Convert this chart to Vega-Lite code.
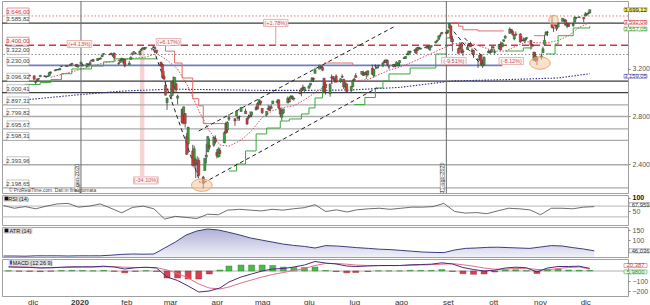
{
"$schema":"https://vega.github.io/schema/vega-lite/v6.json",
"padding":0,
"background":"white",
"spacing":2,
"bounds":"flush",
"config":{"font":"Liberation Sans","view":{"stroke":"#a0a0a0","strokeWidth":1}},
"datasets":{
"px":[
{"d":"2019-11-15","o":3107,"h":3120,"l":3104,"c":3120},{"d":"2019-11-18","o":3118,"h":3124,"l":3112,"c":3122},{"d":"2019-11-19","o":3127,"h":3128,"l":3114,"c":3120},{"d":"2019-11-20","o":3115,"h":3119,"l":3091,"c":3108},{"d":"2019-11-21","o":3108,"h":3111,"l":3095,"c":3104},{"d":"2019-11-22","o":3112,"h":3112,"l":3099,"c":3110},{"d":"2019-11-25","o":3118,"h":3133,"l":3117,"c":3134},{"d":"2019-11-26","o":3135,"h":3142,"l":3131,"c":3141},{"d":"2019-11-27","o":3145,"h":3154,"l":3143,"c":3154},{"d":"2019-11-29","o":3147,"h":3151,"l":3139,"c":3141},
{"d":"2019-12-02","o":3143,"h":3144,"l":3110,"c":3113},{"d":"2019-12-03","o":3087,"h":3094,"l":3070,"c":3093},{"d":"2019-12-04","o":3103,"h":3120,"l":3102,"c":3113},{"d":"2019-12-05","o":3119,"h":3120,"l":3103,"c":3117},{"d":"2019-12-06","o":3134,"h":3150,"l":3134,"c":3146},{"d":"2019-12-09","o":3141,"h":3149,"l":3135,"c":3136},{"d":"2019-12-10","o":3135,"h":3143,"l":3127,"c":3132},{"d":"2019-12-11","o":3136,"h":3143,"l":3133,"c":3141},{"d":"2019-12-12","o":3142,"h":3177,"l":3138,"c":3169},{"d":"2019-12-13","o":3167,"h":3182,"l":3157,"c":3169},{"d":"2019-12-16","o":3184,"h":3198,"l":3184,"c":3191},{"d":"2019-12-17","o":3195,"h":3198,"l":3191,"c":3192},{"d":"2019-12-18","o":3196,"h":3199,"l":3189,"c":3191},{"d":"2019-12-19","o":3192,"h":3206,"l":3192,"c":3205},{"d":"2019-12-20","o":3223,"h":3226,"l":3216,"c":3221},{"d":"2019-12-23","o":3226,"h":3227,"l":3222,"c":3224},{"d":"2019-12-24","o":3225,"h":3226,"l":3220,"c":3223},{"d":"2019-12-26","o":3227,"h":3240,"l":3227,"c":3240},{"d":"2019-12-27","o":3248,"h":3248,"l":3235,"c":3240},{"d":"2019-12-30","o":3240,"h":3241,"l":3216,"c":3221},{"d":"2019-12-31","o":3216,"h":3232,"l":3212,"c":3231},
{"d":"2020-01-02","o":3245,"h":3258,"l":3236,"c":3258},{"d":"2020-01-03","o":3226,"h":3246,"l":3222,"c":3235},{"d":"2020-01-06","o":3218,"h":3247,"l":3215,"c":3246},{"d":"2020-01-07","o":3241,"h":3244,"l":3233,"c":3237},{"d":"2020-01-08","o":3238,"h":3268,"l":3236,"c":3253},{"d":"2020-01-09","o":3267,"h":3276,"l":3263,"c":3275},{"d":"2020-01-10","o":3281,"h":3282,"l":3260,"c":3265},{"d":"2020-01-13","o":3271,"h":3288,"l":3268,"c":3288},{"d":"2020-01-14","o":3285,"h":3295,"l":3277,"c":3283},{"d":"2020-01-15","o":3283,"h":3299,"l":3281,"c":3289},{"d":"2020-01-16","o":3302,"h":3317,"l":3302,"c":3317},{"d":"2020-01-17","o":3324,"h":3330,"l":3317,"c":3330},{"d":"2020-01-21","o":3321,"h":3329,"l":3316,"c":3321},{"d":"2020-01-22","o":3331,"h":3338,"l":3320,"c":3321},{"d":"2020-01-23","o":3316,"h":3326,"l":3302,"c":3326},{"d":"2020-01-24","o":3334,"h":3338,"l":3280,"c":3295},{"d":"2020-01-27","o":3248,"h":3259,"l":3234,"c":3244},{"d":"2020-01-28","o":3255,"h":3286,"l":3254,"c":3276},{"d":"2020-01-29","o":3289,"h":3294,"l":3271,"c":3273},{"d":"2020-01-30","o":3256,"h":3286,"l":3242,"c":3284},{"d":"2020-01-31","o":3283,"h":3283,"l":3214,"c":3226},
{"d":"2020-02-03","o":3236,"h":3268,"l":3236,"c":3249},{"d":"2020-02-04","o":3280,"h":3306,"l":3280,"c":3298},{"d":"2020-02-05","o":3324,"h":3337,"l":3313,"c":3335},{"d":"2020-02-06","o":3344,"h":3348,"l":3334,"c":3345},{"d":"2020-02-07","o":3335,"h":3341,"l":3323,"c":3328},{"d":"2020-02-10","o":3319,"h":3352,"l":3317,"c":3352},{"d":"2020-02-11","o":3365,"h":3376,"l":3352,"c":3358},{"d":"2020-02-12","o":3370,"h":3381,"l":3369,"c":3379},{"d":"2020-02-13","o":3365,"h":3385,"l":3360,"c":3374},{"d":"2020-02-14","o":3378,"h":3380,"l":3367,"c":3380},{"d":"2020-02-18","o":3369,"h":3375,"l":3356,"c":3370},{"d":"2020-02-19","o":3380,"h":3393,"l":3378,"c":3386},{"d":"2020-02-20","o":3380,"h":3390,"l":3341,"c":3373},{"d":"2020-02-21","o":3360,"h":3360,"l":3328,"c":3338},{"d":"2020-02-24","o":3257,"h":3260,"l":3214,"c":3226},{"d":"2020-02-25","o":3238,"h":3247,"l":3118,"c":3128},{"d":"2020-02-26","o":3140,"h":3182,"l":3108,"c":3116},{"d":"2020-02-27","o":3062,"h":3098,"l":2978,"c":2979},{"d":"2020-02-28","o":2916,"h":2959,"l":2855,"c":2954},
{"d":"2020-03-02","o":2974,"h":3090,"l":2946,"c":3090},{"d":"2020-03-03","o":3096,"h":3137,"l":2976,"c":3003},{"d":"2020-03-04","o":3045,"h":3130,"l":3034,"c":3130},{"d":"2020-03-05","o":3075,"h":3084,"l":2999,"c":3024},{"d":"2020-03-06","o":2954,"h":2985,"l":2901,"c":2972},{"d":"2020-03-09","o":2863,"h":2863,"l":2734,"c":2747},{"d":"2020-03-10","o":2813,"h":2882,"l":2734,"c":2882},{"d":"2020-03-11","o":2825,"h":2825,"l":2707,"c":2741},{"d":"2020-03-12","o":2630,"h":2660,"l":2478,"c":2481},{"d":"2020-03-13","o":2569,"h":2711,"l":2492,"c":2711},{"d":"2020-03-16","o":2509,"h":2562,"l":2380,"c":2386},{"d":"2020-03-17","o":2425,"h":2553,"l":2367,"c":2529},{"d":"2020-03-18","o":2436,"h":2453,"l":2281,"c":2398},{"d":"2020-03-19","o":2394,"h":2466,"l":2319,"c":2409},{"d":"2020-03-20","o":2431,"h":2453,"l":2295,"c":2305},{"d":"2020-03-23","o":2290,"h":2300,"l":2192,"c":2237},{"d":"2020-03-24","o":2345,"h":2449,"l":2345,"c":2447},{"d":"2020-03-25","o":2458,"h":2571,"l":2407,"c":2476},{"d":"2020-03-26","o":2501,"h":2637,"l":2501,"c":2630},{"d":"2020-03-27","o":2556,"h":2615,"l":2520,"c":2541},{"d":"2020-03-30","o":2558,"h":2631,"l":2545,"c":2627},{"d":"2020-03-31","o":2614,"h":2641,"l":2571,"c":2585},
{"d":"2020-04-01","o":2498,"h":2522,"l":2447,"c":2471},{"d":"2020-04-02","o":2459,"h":2540,"l":2455,"c":2527},{"d":"2020-04-03","o":2514,"h":2538,"l":2459,"c":2489},{"d":"2020-04-06","o":2578,"h":2676,"l":2575,"c":2664},{"d":"2020-04-07","o":2738,"h":2756,"l":2658,"c":2660},{"d":"2020-04-08","o":2686,"h":2760,"l":2664,"c":2750},{"d":"2020-04-09","o":2777,"h":2819,"l":2762,"c":2790},{"d":"2020-04-13","o":2782,"h":2782,"l":2721,"c":2762},{"d":"2020-04-14","o":2805,"h":2851,"l":2805,"c":2846},{"d":"2020-04-15","o":2796,"h":2801,"l":2761,"c":2784},{"d":"2020-04-16","o":2799,"h":2807,"l":2765,"c":2800},{"d":"2020-04-17","o":2842,"h":2880,"l":2842,"c":2875},{"d":"2020-04-20","o":2846,"h":2867,"l":2821,"c":2823},{"d":"2020-04-21","o":2785,"h":2785,"l":2727,"c":2737},{"d":"2020-04-22","o":2787,"h":2816,"l":2775,"c":2799},{"d":"2020-04-23","o":2810,"h":2844,"l":2794,"c":2798},{"d":"2020-04-24","o":2813,"h":2842,"l":2794,"c":2837},{"d":"2020-04-27","o":2855,"h":2888,"l":2852,"c":2878},{"d":"2020-04-28","o":2909,"h":2921,"l":2861,"c":2863},{"d":"2020-04-29","o":2901,"h":2945,"l":2901,"c":2940},{"d":"2020-04-30","o":2930,"h":2930,"l":2892,"c":2912},
{"d":"2020-05-01","o":2869,"h":2869,"l":2822,"c":2831},{"d":"2020-05-04","o":2815,"h":2844,"l":2798,"c":2843},{"d":"2020-05-05","o":2858,"h":2898,"l":2854,"c":2868},{"d":"2020-05-06","o":2883,"h":2891,"l":2847,"c":2848},{"d":"2020-05-07","o":2869,"h":2901,"l":2866,"c":2881},{"d":"2020-05-08","o":2909,"h":2932,"l":2905,"c":2930},{"d":"2020-05-11","o":2915,"h":2945,"l":2910,"c":2930},{"d":"2020-05-12","o":2940,"h":2945,"l":2869,"c":2870},{"d":"2020-05-13","o":2865,"h":2874,"l":2794,"c":2820},{"d":"2020-05-14","o":2794,"h":2852,"l":2766,"c":2852},{"d":"2020-05-15","o":2829,"h":2865,"l":2821,"c":2864},{"d":"2020-05-18","o":2913,"h":2968,"l":2913,"c":2954},{"d":"2020-05-19","o":2948,"h":2965,"l":2921,"c":2922},{"d":"2020-05-20","o":2953,"h":2980,"l":2953,"c":2972},{"d":"2020-05-21","o":2970,"h":2978,"l":2939,"c":2949},{"d":"2020-05-22","o":2948,"h":2957,"l":2933,"c":2955},{"d":"2020-05-26","o":3005,"h":3021,"l":2988,"c":2992},{"d":"2020-05-27","o":3015,"h":3036,"l":2970,"c":3036},{"d":"2020-05-28","o":3047,"h":3068,"l":3024,"c":3030},{"d":"2020-05-29","o":3026,"h":3050,"l":3007,"c":3044},
{"d":"2020-06-01","o":3038,"h":3063,"l":3032,"c":3056},{"d":"2020-06-02","o":3064,"h":3081,"l":3052,"c":3081},{"d":"2020-06-03","o":3098,"h":3131,"l":3091,"c":3123},{"d":"2020-06-04","o":3121,"h":3128,"l":3090,"c":3112},{"d":"2020-06-05","o":3163,"h":3211,"l":3163,"c":3194},{"d":"2020-06-08","o":3199,"h":3233,"l":3197,"c":3232},{"d":"2020-06-09","o":3223,"h":3223,"l":3204,"c":3208},{"d":"2020-06-10","o":3213,"h":3223,"l":3181,"c":3190},{"d":"2020-06-11","o":3123,"h":3123,"l":2999,"c":3002},{"d":"2020-06-12","o":3072,"h":3089,"l":2984,"c":3041},{"d":"2020-06-15","o":2994,"h":3080,"l":2966,"c":3067},{"d":"2020-06-16","o":3131,"h":3154,"l":3076,"c":3125},{"d":"2020-06-17","o":3136,"h":3141,"l":3109,"c":3114},{"d":"2020-06-18","o":3101,"h":3120,"l":3094,"c":3116},{"d":"2020-06-19","o":3140,"h":3156,"l":3083,"c":3098},{"d":"2020-06-22","o":3095,"h":3121,"l":3082,"c":3118},{"d":"2020-06-23","o":3138,"h":3155,"l":3124,"c":3131},{"d":"2020-06-24","o":3114,"h":3116,"l":3032,"c":3050},{"d":"2020-06-25","o":3047,"h":3086,"l":3025,"c":3084},{"d":"2020-06-26","o":3074,"h":3074,"l":3005,"c":3009},{"d":"2020-06-29","o":3018,"h":3053,"l":2999,"c":3053},{"d":"2020-06-30","o":3050,"h":3112,"l":3048,"c":3100},
{"d":"2020-07-01","o":3105,"h":3128,"l":3101,"c":3116},{"d":"2020-07-02","o":3144,"h":3165,"l":3124,"c":3130},{"d":"2020-07-06","o":3155,"h":3182,"l":3155,"c":3180},{"d":"2020-07-07","o":3166,"h":3184,"l":3142,"c":3145},{"d":"2020-07-08","o":3154,"h":3172,"l":3145,"c":3169},{"d":"2020-07-09","o":3177,"h":3180,"l":3116,"c":3152},{"d":"2020-07-10","o":3152,"h":3186,"l":3136,"c":3185},{"d":"2020-07-13","o":3206,"h":3236,"l":3151,"c":3155},{"d":"2020-07-14","o":3141,"h":3200,"l":3128,"c":3197},{"d":"2020-07-15","o":3226,"h":3238,"l":3200,"c":3227},{"d":"2020-07-16","o":3209,"h":3220,"l":3198,"c":3216},{"d":"2020-07-17","o":3232,"h":3233,"l":3205,"c":3225},{"d":"2020-07-20","o":3225,"h":3259,"l":3216,"c":3251},{"d":"2020-07-21","o":3268,"h":3278,"l":3248,"c":3257},{"d":"2020-07-22","o":3254,"h":3280,"l":3250,"c":3276},{"d":"2020-07-23","o":3272,"h":3279,"l":3223,"c":3236},{"d":"2020-07-24","o":3218,"h":3228,"l":3198,"c":3216},{"d":"2020-07-27","o":3219,"h":3242,"l":3215,"c":3239},{"d":"2020-07-28","o":3235,"h":3244,"l":3216,"c":3218},{"d":"2020-07-29","o":3228,"h":3264,"l":3227,"c":3258},{"d":"2020-07-30","o":3231,"h":3251,"l":3219,"c":3246},{"d":"2020-07-31","o":3251,"h":3272,"l":3221,"c":3271},
{"d":"2020-08-03","o":3288,"h":3302,"l":3285,"c":3295},{"d":"2020-08-04","o":3289,"h":3307,"l":3287,"c":3306},{"d":"2020-08-05","o":3318,"h":3331,"l":3317,"c":3327},{"d":"2020-08-06","o":3324,"h":3352,"l":3315,"c":3349},{"d":"2020-08-07","o":3340,"h":3352,"l":3328,"c":3351},{"d":"2020-08-10","o":3356,"h":3364,"l":3335,"c":3360},{"d":"2020-08-11","o":3370,"h":3381,"l":3326,"c":3333},{"d":"2020-08-12","o":3356,"h":3387,"l":3356,"c":3380},{"d":"2020-08-13","o":3379,"h":3387,"l":3363,"c":3373},{"d":"2020-08-14","o":3368,"h":3378,"l":3362,"c":3373},{"d":"2020-08-17","o":3377,"h":3387,"l":3377,"c":3381},{"d":"2020-08-18","o":3388,"h":3395,"l":3371,"c":3390},{"d":"2020-08-19","o":3392,"h":3399,"l":3369,"c":3375},{"d":"2020-08-20","o":3360,"h":3390,"l":3354,"c":3385},{"d":"2020-08-21","o":3386,"h":3399,"l":3380,"c":3397},{"d":"2020-08-24","o":3419,"h":3432,"l":3414,"c":3431},{"d":"2020-08-25","o":3436,"h":3445,"l":3425,"c":3444},{"d":"2020-08-26","o":3449,"h":3482,"l":3447,"c":3479},{"d":"2020-08-27","o":3485,"h":3501,"l":3468,"c":3484},{"d":"2020-08-28","o":3494,"h":3510,"l":3493,"c":3508},{"d":"2020-08-31","o":3509,"h":3514,"l":3494,"c":3500},
{"d":"2020-09-01","o":3508,"h":3529,"l":3494,"c":3527},{"d":"2020-09-02","o":3544,"h":3588,"l":3536,"c":3580},{"d":"2020-09-03","o":3564,"h":3564,"l":3427,"c":3455},{"d":"2020-09-04","o":3453,"h":3479,"l":3349,"c":3427},{"d":"2020-09-08","o":3371,"h":3379,"l":3329,"c":3332},{"d":"2020-09-09","o":3370,"h":3425,"l":3368,"c":3399},{"d":"2020-09-10","o":3412,"h":3425,"l":3329,"c":3339},{"d":"2020-09-11","o":3352,"h":3368,"l":3310,"c":3341},{"d":"2020-09-14","o":3363,"h":3402,"l":3363,"c":3383},{"d":"2020-09-15","o":3408,"h":3419,"l":3384,"c":3401},{"d":"2020-09-16","o":3411,"h":3429,"l":3385,"c":3386},{"d":"2020-09-17","o":3346,"h":3375,"l":3328,"c":3357},{"d":"2020-09-18","o":3357,"h":3363,"l":3293,"c":3320},{"d":"2020-09-21","o":3285,"h":3286,"l":3209,"c":3281},{"d":"2020-09-22","o":3296,"h":3320,"l":3270,"c":3315},{"d":"2020-09-23","o":3320,"h":3323,"l":3232,"c":3237},{"d":"2020-09-24","o":3226,"h":3279,"l":3209,"c":3247},{"d":"2020-09-25","o":3237,"h":3306,"l":3229,"c":3298},{"d":"2020-09-28","o":3334,"h":3361,"l":3334,"c":3351},{"d":"2020-09-29","o":3350,"h":3358,"l":3327,"c":3336},{"d":"2020-09-30","o":3341,"h":3393,"l":3340,"c":3363},
{"d":"2020-10-01","o":3386,"h":3397,"l":3361,"c":3380},{"d":"2020-10-02","o":3339,"h":3370,"l":3323,"c":3348},{"d":"2020-10-05","o":3367,"h":3409,"l":3367,"c":3408},{"d":"2020-10-06","o":3408,"h":3432,"l":3355,"c":3361},{"d":"2020-10-07","o":3385,"h":3426,"l":3385,"c":3419},{"d":"2020-10-08","o":3434,"h":3447,"l":3428,"c":3446},{"d":"2020-10-09","o":3459,"h":3483,"l":3456,"c":3477},{"d":"2020-10-12","o":3500,"h":3550,"l":3496,"c":3535},{"d":"2020-10-13","o":3534,"h":3534,"l":3500,"c":3512},{"d":"2020-10-14","o":3515,"h":3527,"l":3480,"c":3489},{"d":"2020-10-15","o":3453,"h":3489,"l":3441,"c":3483},{"d":"2020-10-16","o":3494,"h":3515,"l":3483,"c":3484},{"d":"2020-10-19","o":3494,"h":3502,"l":3420,"c":3427},{"d":"2020-10-20","o":3439,"h":3477,"l":3435,"c":3444},{"d":"2020-10-21","o":3441,"h":3465,"l":3433,"c":3435},{"d":"2020-10-22","o":3439,"h":3461,"l":3415,"c":3453},{"d":"2020-10-23","o":3454,"h":3466,"l":3440,"c":3465},{"d":"2020-10-26","o":3441,"h":3441,"l":3364,"c":3401},{"d":"2020-10-27","o":3404,"h":3410,"l":3388,"c":3391},{"d":"2020-10-28","o":3343,"h":3343,"l":3268,"c":3271},{"d":"2020-10-29","o":3277,"h":3342,"l":3259,"c":3310},{"d":"2020-10-30","o":3293,"h":3305,"l":3233,"c":3270},
{"d":"2020-11-02","o":3297,"h":3330,"l":3279,"c":3310},{"d":"2020-11-03","o":3336,"h":3389,"l":3336,"c":3370},{"d":"2020-11-04","o":3406,"h":3486,"l":3405,"c":3443},{"d":"2020-11-05","o":3485,"h":3519,"l":3485,"c":3510},{"d":"2020-11-06","o":3508,"h":3521,"l":3477,"c":3509},{"d":"2020-11-09","o":3583,"h":3646,"l":3543,"c":3550},{"d":"2020-11-10","o":3544,"h":3557,"l":3511,"c":3545},{"d":"2020-11-11","o":3563,"h":3581,"l":3557,"c":3572},{"d":"2020-11-12","o":3563,"h":3570,"l":3519,"c":3537},{"d":"2020-11-13","o":3552,"h":3593,"l":3552,"c":3585},{"d":"2020-11-16","o":3600,"h":3628,"l":3600,"c":3627},{"d":"2020-11-17","o":3610,"h":3624,"l":3594,"c":3609},{"d":"2020-11-18","o":3612,"h":3619,"l":3568,"c":3568},{"d":"2020-11-19","o":3559,"h":3585,"l":3543,"c":3582},{"d":"2020-11-20","o":3580,"h":3582,"l":3556,"c":3558},{"d":"2020-11-23","o":3566,"h":3590,"l":3553,"c":3577},{"d":"2020-11-24","o":3594,"h":3643,"l":3594,"c":3635},{"d":"2020-11-25","o":3635,"h":3636,"l":3617,"c":3629},{"d":"2020-11-27","o":3632,"h":3644,"l":3630,"c":3638},{"d":"2020-11-30","o":3634,"h":3634,"l":3594,"c":3622},
{"d":"2020-12-01","o":3645,"h":3679,"l":3645,"c":3662},{"d":"2020-12-02","o":3654,"h":3670,"l":3644,"c":3669},{"d":"2020-12-03","o":3669,"h":3682,"l":3660,"c":3666},{"d":"2020-12-04","o":3671,"h":3699,"l":3670,"c":3699}
],
"ind":[
{"d":"2019-11-15","r":72,"a":20,"m":42,"g":40,"h":2},{"d":"2019-11-22","r":62,"a":20,"m":38,"g":40,"h":-2},{"d":"2019-11-29","r":68,"a":19,"m":36,"g":39,"h":-3},{"d":"2019-12-06","r":60,"a":21,"m":30,"g":36,"h":-6},{"d":"2019-12-13","r":70,"a":21,"m":32,"g":34,"h":-2},{"d":"2019-12-20","r":78,"a":21,"m":38,"g":34,"h":4},{"d":"2019-12-27","r":80,"a":20,"m":42,"g":36,"h":6},
{"d":"2020-01-03","r":66,"a":21,"m":42,"g":38,"h":4},{"d":"2020-01-10","r":70,"a":21,"m":42,"g":40,"h":2},{"d":"2020-01-17","r":78,"a":21,"m":48,"g":42,"h":6},{"d":"2020-01-24","r":62,"a":24,"m":40,"g":43,"h":-3},{"d":"2020-01-31","r":45,"a":28,"m":20,"g":38,"h":-18},
{"d":"2020-02-07","r":65,"a":30,"m":32,"g":35,"h":-3},{"d":"2020-02-14","r":70,"a":29,"m":38,"g":35,"h":3},{"d":"2020-02-21","r":60,"a":30,"m":30,"g":34,"h":-4},{"d":"2020-02-28","r":22,"a":60,"m":-60,"g":10,"h":-70},
{"d":"2020-03-06","r":32,"a":90,"m":-95,"g":-25,"h":-70},{"d":"2020-03-13","r":28,"a":125,"m":-150,"g":-70,"h":-80},{"d":"2020-03-20","r":24,"a":145,"m":-210,"g":-130,"h":-80},{"d":"2020-03-27","r":40,"a":155,"m":-200,"g":-170,"h":-30},
{"d":"2020-04-03","r":38,"a":150,"m":-170,"g":-180,"h":10},{"d":"2020-04-09","r":55,"a":140,"m":-110,"g":-160,"h":50},{"d":"2020-04-17","r":58,"a":125,"m":-60,"g":-120,"h":60},{"d":"2020-04-24","r":55,"a":110,"m":-30,"g":-90,"h":60},
{"d":"2020-05-01","r":52,"a":100,"m":0,"g":-60,"h":60},{"d":"2020-05-08","r":58,"a":90,"m":20,"g":-35,"h":55},{"d":"2020-05-15","r":55,"a":80,"m":25,"g":-15,"h":40},{"d":"2020-05-22","r":60,"a":73,"m":40,"g":5,"h":35},{"d":"2020-05-29","r":64,"a":68,"m":60,"g":25,"h":35},
{"d":"2020-06-05","r":75,"a":60,"m":95,"g":55,"h":40},{"d":"2020-06-12","r":50,"a":72,"m":80,"g":75,"h":5},{"d":"2020-06-19","r":56,"a":70,"m":70,"g":75,"h":-5},{"d":"2020-06-26","r":48,"a":66,"m":50,"g":68,"h":-18},
{"d":"2020-07-02","r":56,"a":62,"m":45,"g":60,"h":-15},{"d":"2020-07-10","r":60,"a":58,"m":50,"g":55,"h":-5},{"d":"2020-07-17","r":62,"a":54,"m":55,"g":53,"h":2},{"d":"2020-07-24","r":58,"a":52,"m":55,"g":54,"h":1},{"d":"2020-07-31","r":62,"a":48,"m":55,"g":54,"h":1},
{"d":"2020-08-07","r":66,"a":44,"m":62,"g":56,"h":6},{"d":"2020-08-14","r":66,"a":40,"m":65,"g":60,"h":5},{"d":"2020-08-21","r":68,"a":38,"m":68,"g":63,"h":5},{"d":"2020-08-28","r":80,"a":37,"m":82,"g":68,"h":14},
{"d":"2020-09-04","r":50,"a":50,"m":70,"g":74,"h":-4},{"d":"2020-09-11","r":44,"a":58,"m":35,"g":62,"h":-27},{"d":"2020-09-18","r":46,"a":60,"m":15,"g":48,"h":-33},{"d":"2020-09-25","r":42,"a":63,"m":0,"g":30,"h":-30},
{"d":"2020-10-02","r":52,"a":64,"m":8,"g":18,"h":-10},{"d":"2020-10-09","r":62,"a":62,"m":30,"g":18,"h":12},{"d":"2020-10-16","r":60,"a":60,"m":38,"g":25,"h":13},{"d":"2020-10-23","r":56,"a":58,"m":32,"g":28,"h":4},{"d":"2020-10-30","r":38,"a":65,"m":-10,"g":15,"h":-25},
{"d":"2020-11-06","r":62,"a":72,"m":30,"g":12,"h":18},{"d":"2020-11-13","r":62,"a":70,"m":45,"g":25,"h":20},{"d":"2020-11-20","r":60,"a":62,"m":45,"g":35,"h":10},{"d":"2020-11-27","r":66,"a":55,"m":48,"g":40,"h":8},{"d":"2020-12-04","r":68,"a":46,"m":26,"g":20,"h":6}
],
"ma20":[
{"d":"2019-12-13","v":3130},{"d":"2019-12-31","v":3190},{"d":"2020-01-15","v":3245},{"d":"2020-01-31","v":3282},{"d":"2020-02-14","v":3300},{"d":"2020-02-21","v":3330},{"d":"2020-02-28","v":3275},{"d":"2020-03-06","v":3200},{"d":"2020-03-13","v":3050},{"d":"2020-03-20","v":2850},{"d":"2020-03-27","v":2680},{"d":"2020-04-03","v":2560},{"d":"2020-04-09","v":2550},{"d":"2020-04-17","v":2600},{"d":"2020-04-24","v":2680},{"d":"2020-05-01","v":2790},{"d":"2020-05-08","v":2850},{"d":"2020-05-15","v":2875},{"d":"2020-05-22","v":2890},{"d":"2020-05-29","v":2940},{"d":"2020-06-05","v":3000},{"d":"2020-06-12","v":3060},{"d":"2020-06-19","v":3090},{"d":"2020-06-26","v":3100},{"d":"2020-07-02","v":3100},{"d":"2020-07-10","v":3110},{"d":"2020-07-17","v":3150},{"d":"2020-07-24","v":3190},{"d":"2020-07-31","v":3215},{"d":"2020-08-07","v":3250},{"d":"2020-08-14","v":3290},{"d":"2020-08-21","v":3330},{"d":"2020-08-28","v":3370},{"d":"2020-09-04","v":3410},{"d":"2020-09-11","v":3420},{"d":"2020-09-18","v":3410},{"d":"2020-09-25","v":3380},{"d":"2020-10-02","v":3350},{"d":"2020-10-09","v":3350},{"d":"2020-10-16","v":3390},{"d":"2020-10-23","v":3430},{"d":"2020-10-30","v":3420},{"d":"2020-11-06","v":3420},{"d":"2020-11-13","v":3440},{"d":"2020-11-20","v":3480},{"d":"2020-11-27","v":3550},{"d":"2020-12-04","v":3592}
],
"ma200":[
{"d":"2019-11-15","v":2930},{"d":"2019-12-02","v":2947},{"d":"2020-01-02","v":2985},{"d":"2020-01-31","v":3015},{"d":"2020-03-02","v":3030},{"d":"2020-04-01","v":3025},{"d":"2020-05-01","v":3020},{"d":"2020-06-01","v":3020},{"d":"2020-06-29","v":3023},{"d":"2020-07-31","v":3045},{"d":"2020-09-04","v":3099},{"d":"2020-10-09","v":3110},{"d":"2020-11-13","v":3124},{"d":"2020-12-04","v":3160}
],
"stop":[
{"d":"2019-11-15","v":3040,"s":1,"t":"up"},{"d":"2019-11-26","v":3070,"s":1,"t":"up"},{"d":"2019-12-06","v":3085,"s":1,"t":"up"},{"d":"2019-12-13","v":3110,"s":1,"t":"up"},{"d":"2019-12-20","v":3160,"s":1,"t":"up"},{"d":"2019-12-27","v":3200,"s":1,"t":"up"},{"d":"2020-01-09","v":3225,"s":1,"t":"up"},{"d":"2020-01-17","v":3260,"s":1,"t":"up"},{"d":"2020-01-24","v":3285,"s":1,"t":"up"},{"d":"2020-02-21","v":3295,"s":1,"t":"up"},
{"d":"2020-02-24","v":3400,"s":2,"t":"dn"},{"d":"2020-02-27","v":3350,"s":2,"t":"dn"},{"d":"2020-03-04","v":3250,"s":2,"t":"dn"},{"d":"2020-03-09","v":3124,"s":2,"t":"dn"},{"d":"2020-03-16","v":2950,"s":2,"t":"dn"},{"d":"2020-03-20","v":2890,"s":2,"t":"dn"},{"d":"2020-03-23","v":2740,"s":2,"t":"dn"},{"d":"2020-04-08","v":2740,"s":2,"t":"dn"},
{"d":"2020-04-09","v":2341,"s":3,"t":"up"},{"d":"2020-04-14","v":2400,"s":3,"t":"up"},{"d":"2020-04-20","v":2510,"s":3,"t":"up"},{"d":"2020-04-27","v":2653,"s":3,"t":"up"},{"d":"2020-05-04","v":2703,"s":3,"t":"up"},{"d":"2020-05-13","v":2762,"s":3,"t":"up"},{"d":"2020-05-19","v":2779,"s":3,"t":"up"},{"d":"2020-05-27","v":2821,"s":3,"t":"up"},{"d":"2020-06-01","v":2872,"s":3,"t":"up"},{"d":"2020-06-05","v":2956,"s":3,"t":"up"},{"d":"2020-06-10","v":3057,"s":3,"t":"up"},
{"d":"2020-06-11","v":3250,"s":4,"t":"dn"},{"d":"2020-06-22","v":3250,"s":4,"t":"dn"},{"d":"2020-06-30","v":3230,"s":4,"t":"dn"},
{"d":"2020-07-01","v":2900,"s":5,"t":"up"},{"d":"2020-07-08","v":2960,"s":5,"t":"up"},{"d":"2020-07-15","v":3040,"s":5,"t":"up"},{"d":"2020-07-20","v":3099,"s":5,"t":"up"},{"d":"2020-07-24","v":3158,"s":5,"t":"up"},{"d":"2020-08-07","v":3208,"s":5,"t":"up"},{"d":"2020-08-24","v":3326,"s":5,"t":"up"},{"d":"2020-08-31","v":3461,"s":5,"t":"up"},{"d":"2020-09-02","v":3470,"s":5,"t":"up"},
{"d":"2020-09-03","v":3590,"s":6,"t":"dn"},{"d":"2020-09-08","v":3560,"s":6,"t":"dn"},{"d":"2020-09-11","v":3530,"s":6,"t":"dn"},{"d":"2020-09-21","v":3520,"s":6,"t":"dn"},{"d":"2020-10-08","v":3520,"s":6,"t":"dn"},
{"d":"2020-10-09","v":3351,"s":7,"t":"up"},{"d":"2020-10-21","v":3377,"s":7,"t":"up"},{"d":"2020-10-27","v":3377,"s":7,"t":"up"},
{"d":"2020-10-28","v":3480,"s":8,"t":"dn"},{"d":"2020-11-04","v":3480,"s":8,"t":"dn"},
{"d":"2020-11-05","v":3326,"s":9,"t":"up"},{"d":"2020-11-11","v":3410,"s":9,"t":"up"},{"d":"2020-11-13","v":3480,"s":9,"t":"up"},{"d":"2020-11-23","v":3545,"s":9,"t":"up"},{"d":"2020-12-04","v":3560,"s":9,"t":"up"}
],
"tl":[
{"d":"2020-02-19","v":3368,"s":"A"},{"d":"2020-03-21","v":2240,"s":"A"},
{"d":"2020-03-23","v":2240,"s":"B"},{"d":"2020-07-16","v":3040,"s":"B"},
{"d":"2020-03-20","v":2678,"s":"C"},{"d":"2020-07-27","v":3553,"s":"C"},
{"d":"2020-09-02","v":3560,"s":"D"},{"d":"2020-09-22","v":3250,"s":"D"},
{"d":"2020-09-12","v":3461,"s":"E"},{"d":"2020-09-25","v":3292,"s":"E"}
]
},
"vconcat":[
{"width":626,"height":192,"layer":[
{"data":{"values":[{"d":"2020-02-10","d2":"2020-02-13","v":3368,"v2":2299}]},"mark":{"type":"rect","color":"#f2b5b5","opacity":0.6},
 "encoding":{"x":{"field":"d","type":"temporal","scale":{"domain":[{"year":2019,"month":11,"date":14},{"year":2020,"month":12,"date":26}]},"axis":null},"x2":{"field":"d2"},"y":{"field":"v","type":"quantitative","scale":{"domain":[2156,3772],"nice":false,"zero":false}},"y2":{"field":"v2"}}},
{"data":{"values":[{"v":2897.31},{"v":2799.82},{"v":2695.67},{"v":2598.31},{"v":2393.96},{"v":2198.65}]},"mark":{"type":"rule","color":"#ababab","strokeWidth":1.3},
 "encoding":{"y":{"field":"v","type":"quantitative","scale":{"domain":[2156,3772],"nice":false,"zero":false},"axis":{"orient":"right","values":[2400,2600,2800,3000,3200,3400],"title":null,"grid":false,"domain":false,"tickSize":2,"tickColor":"#888","labelFontSize":7,"labelColor":{"condition":{"test":"datum.value==3000","value":"#111"},"value":"#555"},"labelPadding":2,"labelExpr":"replace(format(datum.value, ',d'), ',', '.')","labelFontWeight":{"condition":{"test":"datum.value==3000","value":"bold"},"value":"normal"}}}}},
{"data":{"values":[{"v":3585.82},{"v":3096.92},{"v":3000.41}]},"mark":{"type":"rule","color":"#3c3c3c","strokeWidth":1.3},
 "encoding":{"y":{"field":"v","type":"quantitative","scale":{"domain":[2156,3772],"nice":false,"zero":false}}}},
{"data":{"values":[{"v":3400}]},"mark":{"type":"rule","color":"#d83444","strokeWidth":1.6,"strokeDash":[7,4]},
 "encoding":{"y":{"field":"v","type":"quantitative","scale":{"domain":[2156,3772],"nice":false,"zero":false}}}},
{"data":{"values":[{"v":3646},{"v":3322}]},"mark":{"type":"rule","strokeWidth":1,"strokeDash":[1.5,2]},
 "encoding":{"y":{"field":"v","type":"quantitative","scale":{"domain":[2156,3772],"nice":false,"zero":false}},"stroke":{"condition":{"test":"datum.v==3646","value":"#e07a7a"},"value":"#8a8a8a"}}},
{"data":{"values":[{"d":"2019-11-14","d2":"2020-10-07","v":3230}]},"mark":{"type":"rule","color":"#6f80b8","strokeWidth":1.6},
 "encoding":{"x":{"field":"d","type":"temporal","scale":{"domain":[{"year":2019,"month":11,"date":14},{"year":2020,"month":12,"date":26}]},"axis":null},"x2":{"field":"d2"},"y":{"field":"v","type":"quantitative","scale":{"domain":[2156,3772],"nice":false,"zero":false}}}},
{"data":{"name":"ma200"},"mark":{"type":"line","color":"#2f2f8f","strokeWidth":1.1,"strokeDash":[1.5,1.5]},
 "encoding":{"x":{"field":"d","type":"temporal","scale":{"domain":[{"year":2019,"month":11,"date":14},{"year":2020,"month":12,"date":26}]},"axis":null},"y":{"field":"v","type":"quantitative","scale":{"domain":[2156,3772],"nice":false,"zero":false}}}},
{"data":{"name":"ma20"},"mark":{"type":"line","color":"#d94c60","strokeWidth":1,"strokeDash":[1.5,1.5]},
 "encoding":{"x":{"field":"d","type":"temporal","scale":{"domain":[{"year":2019,"month":11,"date":14},{"year":2020,"month":12,"date":26}]},"axis":null},"y":{"field":"v","type":"quantitative","scale":{"domain":[2156,3772],"nice":false,"zero":false}}}},
{"data":{"name":"stop"},"mark":{"type":"line","strokeWidth":1,"interpolate":"step-after"},
 "encoding":{"x":{"field":"d","type":"temporal","scale":{"domain":[{"year":2019,"month":11,"date":14},{"year":2020,"month":12,"date":26}]},"axis":null},"y":{"field":"v","type":"quantitative","scale":{"domain":[2156,3772],"nice":false,"zero":false}},"stroke":{"field":"t","type":"nominal","scale":{"domain":["up","dn"],"range":["#3ca83c","#e36b6b"]},"legend":null},"detail":{"field":"s","type":"nominal"}}},
{"data":{"name":"tl"},"mark":{"type":"line","color":"#222","strokeWidth":1,"strokeDash":[4,3]},
 "encoding":{"x":{"field":"d","type":"temporal","scale":{"domain":[{"year":2019,"month":11,"date":14},{"year":2020,"month":12,"date":26}]},"axis":null},"y":{"field":"v","type":"quantitative","scale":{"domain":[2156,3772],"nice":false,"zero":false}},"detail":{"field":"s","type":"nominal"}}},
{"data":{"values":[{"d":"2020-05-10","v":3562,"v2":3400}]},"mark":{"type":"rule","color":"#e89a9a","strokeWidth":1},
 "encoding":{"x":{"field":"d","type":"temporal","scale":{"domain":[{"year":2019,"month":11,"date":14},{"year":2020,"month":12,"date":26}]},"axis":null},"y":{"field":"v","type":"quantitative","scale":{"domain":[2156,3772],"nice":false,"zero":false}},"y2":{"field":"v2"}}},
{"data":{"values":[{"d":"2020-01-02"},{"d":"2020-08-31"}]},"mark":{"type":"rule","color":"#6a6a6a","strokeWidth":1},
 "encoding":{"x":{"field":"d","type":"temporal","scale":{"domain":[{"year":2019,"month":11,"date":14},{"year":2020,"month":12,"date":26}]},"axis":null}}},
{"data":{"name":"px"},"mark":{"type":"rule","color":"#333","strokeWidth":0.8},
 "encoding":{"x":{"field":"d","type":"temporal","scale":{"domain":[{"year":2019,"month":11,"date":14},{"year":2020,"month":12,"date":26}]},"axis":null},"y":{"field":"l","type":"quantitative","scale":{"domain":[2156,3772],"nice":false,"zero":false}},"y2":{"field":"h"}}},
{"data":{"name":"px"},"mark":{"type":"bar","size":2.2,"stroke":"#333","strokeWidth":0.4},
 "encoding":{"x":{"field":"d","type":"temporal","scale":{"domain":[{"year":2019,"month":11,"date":14},{"year":2020,"month":12,"date":26}]},"axis":null},"y":{"field":"o","type":"quantitative","scale":{"domain":[2156,3772],"nice":false,"zero":false}},"y2":{"field":"c"},"fill":{"condition":{"test":"datum.c>=datum.o","value":"#36a336"},"value":"#d83a3a"}}},
{"data":{"values":[{"d":"2020-03-22","v":2222},{"d":"2020-11-01","v":3250}]},"mark":{"type":"point","shape":"M-1,0A1,0.6,0,1,1,1,0A1,0.6,0,1,1,-1,0Z","size":420,"filled":true,"fill":"#f5c9a0","fillOpacity":0.55,"stroke":"#e8955a","strokeWidth":0.8,"opacity":1},
 "encoding":{"x":{"field":"d","type":"temporal","scale":{"domain":[{"year":2019,"month":11,"date":14},{"year":2020,"month":12,"date":26}]},"axis":null},"y":{"field":"v","type":"quantitative","scale":{"domain":[2156,3772],"nice":false,"zero":false}}}},
{"data":{"values":[{"d":"2020-11-10","v":3612}]},"mark":{"type":"point","shape":"circle","size":90,"filled":true,"fill":"#f5c9a0","fillOpacity":0.5,"stroke":"#e8955a","strokeWidth":0.8,"opacity":1},
 "encoding":{"x":{"field":"d","type":"temporal","scale":{"domain":[{"year":2019,"month":11,"date":14},{"year":2020,"month":12,"date":26}]},"axis":null},"y":{"field":"v","type":"quantitative","scale":{"domain":[2156,3772],"nice":false,"zero":false}}}},
{"data":{"values":[{"v":3646,"t":"3.646,00"},{"v":3585.82,"t":"3.585,82"},{"v":3400,"t":"3.400,00"},{"v":3322,"t":"3.322,00"},{"v":3230,"t":"3.230,00"},{"v":3096.92,"t":"3.096,92"},{"v":3000.41,"t":"3.000,41"},{"v":2897.31,"t":"2.897,31"},{"v":2799.82,"t":"2.799,82"},{"v":2695.67,"t":"2.695,67"},{"v":2598.31,"t":"2.598,31"},{"v":2393.96,"t":"2.393,96"},{"v":2198.65,"t":"2.198,65"}]},
 "layer":[
 {"mark":{"type":"point","shape":"M-1,-0.36H1V0.36H-1Z","size":484,"filled":true,"fill":"white","strokeWidth":0.6,"xOffset":11,"yOffset":-4,"opacity":1},
  "encoding":{"x":{"datum":{"year":2019,"month":11,"date":14},"type":"temporal","scale":{"domain":[{"year":2019,"month":11,"date":14},{"year":2020,"month":12,"date":26}]},"axis":null},"y":{"field":"v","type":"quantitative","scale":{"domain":[2156,3772],"nice":false,"zero":false}},"stroke":{"condition":{"test":"datum.v==3400||datum.v==3646","value":"#d9485a"},"value":"#9a9a9a"}}},
 {"mark":{"type":"text","fontSize":6,"xOffset":11,"yOffset":-4,"align":"center","baseline":"middle"},
  "encoding":{"x":{"datum":{"year":2019,"month":11,"date":14},"type":"temporal","scale":{"domain":[{"year":2019,"month":11,"date":14},{"year":2020,"month":12,"date":26}]},"axis":null},"y":{"field":"v","type":"quantitative","scale":{"domain":[2156,3772],"nice":false,"zero":false}},"text":{"field":"t"},"color":{"condition":{"test":"datum.v==3400||datum.v==3646","value":"#c83040"},"value":"#444"}}}
 ]},
{"data":{"values":[{"d":"2020-01-01","v":3410,"t":"(+4.13%)"},{"d":"2020-02-29","v":3427,"t":"(+6.17%)"},{"d":"2020-05-10","v":3587,"t":"(+1.78%)"},{"d":"2020-02-14","v":2262,"t":"(-34.10%)"},{"d":"2020-09-05","v":3267,"t":"(-9.51%)"},{"d":"2020-10-13","v":3267,"t":"(-8.12%)"}]},
 "layer":[
 {"mark":{"type":"point","shape":"M-1,-0.29H1V0.29H-1Z","size":600,"filled":true,"fill":"#fff5f5","stroke":"#dd9a9a","strokeWidth":0.7,"opacity":1},
  "encoding":{"x":{"field":"d","type":"temporal","scale":{"domain":[{"year":2019,"month":11,"date":14},{"year":2020,"month":12,"date":26}]},"axis":null},"y":{"field":"v","type":"quantitative","scale":{"domain":[2156,3772],"nice":false,"zero":false}}}},
 {"mark":{"type":"text","fontSize":5.5,"color":"#c05555","align":"center","baseline":"middle"},
  "encoding":{"x":{"field":"d","type":"temporal","scale":{"domain":[{"year":2019,"month":11,"date":14},{"year":2020,"month":12,"date":26}]},"axis":null},"y":{"field":"v","type":"quantitative","scale":{"domain":[2156,3772],"nice":false,"zero":false}},"text":{"field":"t"}}}
 ]},
{"data":{"values":[{"d":"2020-01-02","v":2282,"t":"2-gen-2020"},{"d":"2020-08-31","v":2282,"t":"31-ago-2020"}]},
 "layer":[
 {"mark":{"type":"point","shape":"M-0.15,-1H0.15V1H-0.15Z","size":729,"filled":true,"fill":"white","stroke":"#888","strokeWidth":0.6,"xOffset":-4,"opacity":1},
  "encoding":{"x":{"field":"d","type":"temporal","scale":{"domain":[{"year":2019,"month":11,"date":14},{"year":2020,"month":12,"date":26}]},"axis":null},"y":{"field":"v","type":"quantitative","scale":{"domain":[2156,3772],"nice":false,"zero":false}}}},
 {"mark":{"type":"text","fontSize":5.5,"angle":270,"color":"#444","xOffset":-4,"align":"center","baseline":"middle"},
  "encoding":{"x":{"field":"d","type":"temporal","scale":{"domain":[{"year":2019,"month":11,"date":14},{"year":2020,"month":12,"date":26}]},"axis":null},"y":{"field":"v","type":"quantitative","scale":{"domain":[2156,3772],"nice":false,"zero":false}},"text":{"field":"t"}}}
 ]},
{"data":{"values":[{"v":3699.12,"t":"3.699,12","k":"last"},{"v":3592.09,"t":"3.592,09","k":"ma"}]},
 "layer":[
 {"mark":{"type":"point","shape":"M-1,-0.17H1V0.17H-1Z","size":529,"filled":true,"strokeWidth":0.7,"xOffset":12.5,"opacity":1},
  "encoding":{"x":{"datum":{"year":2020,"month":12,"date":26},"type":"temporal","scale":{"domain":[{"year":2019,"month":11,"date":14},{"year":2020,"month":12,"date":26}]},"axis":null},"y":{"field":"v","type":"quantitative","scale":{"domain":[2156,3772],"nice":false,"zero":false}},
  "fill":{"condition":{"test":"datum.k=='last'","value":"#fff07a"},"value":"white"},
  "stroke":{"condition":{"test":"datum.k=='last'","value":"#b8a400"},"value":"#e07a7a"}}},
 {"mark":{"type":"text","fontSize":5.8,"xOffset":12.5,"align":"center","baseline":"middle"},
  "encoding":{"x":{"datum":{"year":2020,"month":12,"date":26},"type":"temporal","scale":{"domain":[{"year":2019,"month":11,"date":14},{"year":2020,"month":12,"date":26}]},"axis":null},"y":{"field":"v","type":"quantitative","scale":{"domain":[2156,3772],"nice":false,"zero":false}},"text":{"field":"t"},
  "color":{"condition":{"test":"datum.k=='last'","value":"#222"},"value":"#d9304a"}}}
 ]},
{"data":{"values":[{"v":3159.05,"t":"3.159,05"}]},
 "layer":[
 {"mark":{"type":"point","shape":"M-1,-0.17H1V0.17H-1Z","size":529,"filled":true,"fill":"white","stroke":"#7a7ac0","strokeWidth":0.7,"xOffset":12.5,"yOffset":2.5,"opacity":1},
  "encoding":{"x":{"datum":{"year":2020,"month":12,"date":26},"type":"temporal","scale":{"domain":[{"year":2019,"month":11,"date":14},{"year":2020,"month":12,"date":26}]},"axis":null},"y":{"field":"v","type":"quantitative","scale":{"domain":[2156,3772],"nice":false,"zero":false}}}},
 {"mark":{"type":"text","fontSize":5.8,"color":"#3a3aa8","xOffset":12.5,"yOffset":2.5,"align":"center","baseline":"middle"},
  "encoding":{"x":{"datum":{"year":2020,"month":12,"date":26},"type":"temporal","scale":{"domain":[{"year":2019,"month":11,"date":14},{"year":2020,"month":12,"date":26}]},"axis":null},"y":{"field":"v","type":"quantitative","scale":{"domain":[2156,3772],"nice":false,"zero":false}},"text":{"field":"t"}}}
 ]},
{"data":{"values":[{"v":3557.05,"t":"3.557,05"}]},
 "layer":[
 {"mark":{"type":"point","shape":"M-1,-0.17H1V0.17H-1Z","size":529,"filled":true,"fill":"white","stroke":"#6cbf6c","strokeWidth":0.7,"xOffset":12.5,"yOffset":2.5,"opacity":1},
  "encoding":{"x":{"datum":{"year":2020,"month":12,"date":26},"type":"temporal","scale":{"domain":[{"year":2019,"month":11,"date":14},{"year":2020,"month":12,"date":26}]},"axis":null},"y":{"field":"v","type":"quantitative","scale":{"domain":[2156,3772],"nice":false,"zero":false}}}},
 {"mark":{"type":"text","fontSize":5.8,"color":"#2c9c2c","xOffset":12.5,"yOffset":2.5,"align":"center","baseline":"middle"},
  "encoding":{"x":{"datum":{"year":2020,"month":12,"date":26},"type":"temporal","scale":{"domain":[{"year":2019,"month":11,"date":14},{"year":2020,"month":12,"date":26}]},"axis":null},"y":{"field":"v","type":"quantitative","scale":{"domain":[2156,3772],"nice":false,"zero":false}},"text":{"field":"t"}}}
 ]},
{"data":{"values":[{"v":2172,"t":"© ProRealTime.com. Dati in fine giornata"}]},"mark":{"type":"text","fontSize":4.8,"color":"#444","align":"left","baseline":"middle","xOffset":2},
 "encoding":{"x":{"datum":{"year":2019,"month":11,"date":14},"type":"temporal","scale":{"domain":[{"year":2019,"month":11,"date":14},{"year":2020,"month":12,"date":26}]},"axis":null},"y":{"field":"v","type":"quantitative","scale":{"domain":[2156,3772],"nice":false,"zero":false}},"text":{"field":"t"}}}
]},
{"width":626,"height":30,"layer":[
{"data":{"values":[{"r":70},{"r":30}]},"mark":{"type":"rule","color":"#b5b5b5","strokeWidth":1},
 "encoding":{"y":{"field":"r","type":"quantitative","scale":{"domain":[0,111],"nice":false,"zero":false},"axis":{"orient":"right","values":[50,100],"title":null,"grid":false,"domain":false,"tickSize":2,"tickColor":"#888","labelFontSize":7,"labelColor":{"condition":{"test":"datum.value==100","value":"#111"},"value":"#555"},"labelPadding":2,"labelFontWeight":{"condition":{"test":"datum.value==100","value":"bold"},"value":"normal"}}}}},
{"data":{"name":"ind"},"mark":{"type":"line","color":"#4a4a4a","strokeWidth":0.8},
 "encoding":{"x":{"field":"d","type":"temporal","scale":{"domain":[{"year":2019,"month":11,"date":14},{"year":2020,"month":12,"date":26}]},"axis":null},"y":{"field":"r","type":"quantitative","scale":{"domain":[0,111],"nice":false,"zero":false}}}},
{"data":{"values":[{"r":67.959,"t":"67,959"}]},
 "layer":[
 {"mark":{"type":"point","shape":"M-1,-0.17H1V0.17H-1Z","size":529,"filled":true,"fill":"white","stroke":"#888","strokeWidth":0.7,"xOffset":12.5,"yOffset":-2,"opacity":1},
  "encoding":{"x":{"datum":{"year":2020,"month":12,"date":26},"type":"temporal","scale":{"domain":[{"year":2019,"month":11,"date":14},{"year":2020,"month":12,"date":26}]},"axis":null},"y":{"field":"r","type":"quantitative","scale":{"domain":[0,111],"nice":false,"zero":false}}}},
 {"mark":{"type":"text","fontSize":5.8,"color":"#333","xOffset":12.5,"yOffset":-2,"align":"center","baseline":"middle"},
  "encoding":{"x":{"datum":{"year":2020,"month":12,"date":26},"type":"temporal","scale":{"domain":[{"year":2019,"month":11,"date":14},{"year":2020,"month":12,"date":26}]},"axis":null},"y":{"field":"r","type":"quantitative","scale":{"domain":[0,111],"nice":false,"zero":false}},"text":{"field":"t"}}}
 ]},
{"data":{"values":[{"r":98,"t":"RSI (14)"}]},
 "layer":[
 {"mark":{"type":"point","shape":"M-1,-0.24H1V0.24H-1Z","size":529,"filled":true,"fill":"#dcdcdc","stroke":"#bbb","strokeWidth":0.5,"xOffset":13.5,"opacity":1},
  "encoding":{"x":{"datum":{"year":2019,"month":11,"date":14},"type":"temporal","scale":{"domain":[{"year":2019,"month":11,"date":14},{"year":2020,"month":12,"date":26}]},"axis":null},"y":{"field":"r","type":"quantitative","scale":{"domain":[0,111],"nice":false,"zero":false}}}},
 {"mark":{"type":"point","shape":"square","size":14,"filled":true,"color":"#111","xOffset":4.5,"opacity":1},
  "encoding":{"x":{"datum":{"year":2019,"month":11,"date":14},"type":"temporal","scale":{"domain":[{"year":2019,"month":11,"date":14},{"year":2020,"month":12,"date":26}]},"axis":null},"y":{"field":"r","type":"quantitative","scale":{"domain":[0,111],"nice":false,"zero":false}}}},
 {"mark":{"type":"text","fontSize":5.5,"color":"#222","xOffset":16.5,"align":"center","baseline":"middle"},
  "encoding":{"x":{"datum":{"year":2019,"month":11,"date":14},"type":"temporal","scale":{"domain":[{"year":2019,"month":11,"date":14},{"year":2020,"month":12,"date":26}]},"axis":null},"y":{"field":"r","type":"quantitative","scale":{"domain":[0,111],"nice":false,"zero":false}},"text":{"field":"t"}}}
 ]}
]},
{"width":626,"height":30,"layer":[
{"data":{"name":"ind"},"mark":{"type":"area","clip":true,"line":{"color":"#3d3d80","strokeWidth":1},"color":{"gradient":"linear","x1":1,"x2":1,"y1":0,"y2":1,"stops":[{"offset":0,"color":"#8e8ec6"},{"offset":1,"color":"#f4f4fb"}]}},
 "encoding":{"x":{"field":"d","type":"temporal","scale":{"domain":[{"year":2019,"month":11,"date":14},{"year":2020,"month":12,"date":26}]},"axis":null},"y":{"field":"a","type":"quantitative","scale":{"domain":[15,165],"nice":false,"zero":false},"axis":{"orient":"right","values":[100,150],"title":null,"grid":false,"domain":false,"tickSize":2,"tickColor":"#888","labelFontSize":7,"labelColor":"#555","labelPadding":2}}}},
{"data":{"values":[{"a":46.036,"t":"46,036"}]},
 "layer":[
 {"mark":{"type":"point","shape":"M-1,-0.17H1V0.17H-1Z","size":529,"filled":true,"fill":"white","stroke":"#888","strokeWidth":0.7,"xOffset":12.5,"opacity":1},
  "encoding":{"x":{"datum":{"year":2020,"month":12,"date":26},"type":"temporal","scale":{"domain":[{"year":2019,"month":11,"date":14},{"year":2020,"month":12,"date":26}]},"axis":null},"y":{"field":"a","type":"quantitative","scale":{"domain":[15,165],"nice":false,"zero":false}}}},
 {"mark":{"type":"text","fontSize":5.8,"color":"#333","xOffset":12.5,"align":"center","baseline":"middle"},
  "encoding":{"x":{"datum":{"year":2020,"month":12,"date":26},"type":"temporal","scale":{"domain":[{"year":2019,"month":11,"date":14},{"year":2020,"month":12,"date":26}]},"axis":null},"y":{"field":"a","type":"quantitative","scale":{"domain":[15,165],"nice":false,"zero":false}},"text":{"field":"t"}}}
 ]},
{"data":{"values":[{"a":147.5,"t":"ATR (14)"}]},
 "layer":[
 {"mark":{"type":"point","shape":"M-1,-0.2H1V0.2H-1Z","size":784,"filled":true,"fill":"#dcdcdc","stroke":"#bbb","strokeWidth":0.5,"xOffset":16,"opacity":1},
  "encoding":{"x":{"datum":{"year":2019,"month":11,"date":14},"type":"temporal","scale":{"domain":[{"year":2019,"month":11,"date":14},{"year":2020,"month":12,"date":26}]},"axis":null},"y":{"field":"a","type":"quantitative","scale":{"domain":[15,165],"nice":false,"zero":false}}}},
 {"mark":{"type":"point","shape":"square","size":14,"filled":true,"color":"#111","xOffset":4.5,"opacity":1},
  "encoding":{"x":{"datum":{"year":2019,"month":11,"date":14},"type":"temporal","scale":{"domain":[{"year":2019,"month":11,"date":14},{"year":2020,"month":12,"date":26}]},"axis":null},"y":{"field":"a","type":"quantitative","scale":{"domain":[15,165],"nice":false,"zero":false}}}},
 {"mark":{"type":"text","fontSize":5.5,"color":"#222","xOffset":18.5,"align":"center","baseline":"middle"},
  "encoding":{"x":{"datum":{"year":2019,"month":11,"date":14},"type":"temporal","scale":{"domain":[{"year":2019,"month":11,"date":14},{"year":2020,"month":12,"date":26}]},"axis":null},"y":{"field":"a","type":"quantitative","scale":{"domain":[15,165],"nice":false,"zero":false}},"text":{"field":"t"}}}
 ]}
]},
{"width":626,"height":37,"layer":[
{"data":{"values":[{"m":0}]},"mark":{"type":"rule","color":"#9a9a9a","strokeWidth":0.8},
 "encoding":{"y":{"field":"m","type":"quantitative","scale":{"domain":[-250,120],"nice":false,"zero":false},"axis":{"orient":"right","values":[-200,-100],"title":null,"grid":false,"domain":false,"tickSize":2,"tickColor":"#888","labelFontSize":7,"labelColor":"#555","labelPadding":2,"labelExpr":"format(datum.value, 'd')"}}}},
{"data":{"name":"ind"},"mark":{"type":"bar","size":6,"strokeWidth":0.4},
 "encoding":{"x":{"field":"d","type":"temporal","scale":{"domain":[{"year":2019,"month":11,"date":14},{"year":2020,"month":12,"date":26}]}},"y":{"field":"h","type":"quantitative","scale":{"domain":[-250,120],"nice":false,"zero":false}},"fill":{"condition":{"test":"datum.h>=0","value":"#4cb84c"},"value":"#d8404e"},"stroke":{"condition":{"test":"datum.h>=0","value":"#1f7a1f"},"value":"#8a1f2a"}}},
{"data":{"name":"ind"},"mark":{"type":"line","color":"#e0708a","strokeWidth":1},
 "encoding":{"x":{"field":"d","type":"temporal","scale":{"domain":[{"year":2019,"month":11,"date":14},{"year":2020,"month":12,"date":26}]}},"y":{"field":"g","type":"quantitative","scale":{"domain":[-250,120],"nice":false,"zero":false}}}},
{"data":{"name":"ind"},"mark":{"type":"line","color":"#4b2a7a","strokeWidth":1},
 "encoding":{"x":{"field":"d","type":"temporal","scale":{"domain":[{"year":2019,"month":11,"date":14},{"year":2020,"month":12,"date":26}]},
  "axis":{"orient":"bottom","values":[{"year":2019,"month":12,"date":1},{"year":2020,"month":1,"date":1},{"year":2020,"month":2,"date":1},{"year":2020,"month":3,"date":1},{"year":2020,"month":4,"date":1},{"year":2020,"month":5,"date":1},{"year":2020,"month":6,"date":1},{"year":2020,"month":7,"date":1},{"year":2020,"month":8,"date":1},{"year":2020,"month":9,"date":1},{"year":2020,"month":10,"date":1},{"year":2020,"month":11,"date":1},{"year":2020,"month":12,"date":1}],"title":null,"grid":false,"domain":false,"ticks":false,"labelPadding":2,"labelFontSize":8,"labelColor":"#333","labelOverlap":false,"labelFlush":false,
  "labelExpr":"month(datum.value)==0 ? '2020' : ['gen','feb','mar','apr','mag','giu','lug','ago','set','ott','nov','dic'][month(datum.value)]",
  "labelFontWeight":{"condition":{"test":"month(datum.value)==0","value":"bold"},"value":"normal"}}},
  "y":{"field":"m","type":"quantitative","scale":{"domain":[-250,120],"nice":false,"zero":false}}}},
{"data":{"values":[{"m":20.387,"t":"20,387"}]},
 "layer":[
 {"mark":{"type":"point","shape":"M-1,-0.17H1V0.17H-1Z","size":529,"filled":true,"fill":"white","stroke":"#e07a7a","strokeWidth":0.7,"xOffset":12.5,"yOffset":-3.5,"opacity":1},
  "encoding":{"x":{"datum":{"year":2020,"month":12,"date":26},"type":"temporal","scale":{"domain":[{"year":2019,"month":11,"date":14},{"year":2020,"month":12,"date":26}]}},"y":{"field":"m","type":"quantitative","scale":{"domain":[-250,120],"nice":false,"zero":false}}}},
 {"mark":{"type":"text","fontSize":5.8,"color":"#d9304a","xOffset":12.5,"yOffset":-3.5,"align":"center","baseline":"middle"},
  "encoding":{"x":{"datum":{"year":2020,"month":12,"date":26},"type":"temporal","scale":{"domain":[{"year":2019,"month":11,"date":14},{"year":2020,"month":12,"date":26}]}},"y":{"field":"m","type":"quantitative","scale":{"domain":[-250,120],"nice":false,"zero":false}},"text":{"field":"t"}}}
 ]},
{"data":{"values":[{"m":5.98,"t":"5,9800"}]},
 "layer":[
 {"mark":{"type":"point","shape":"M-1,-0.17H1V0.17H-1Z","size":529,"filled":true,"fill":"#eaf7ea","stroke":"#6cbf6c","strokeWidth":0.7,"xOffset":12.5,"yOffset":1.5,"opacity":1},
  "encoding":{"x":{"datum":{"year":2020,"month":12,"date":26},"type":"temporal","scale":{"domain":[{"year":2019,"month":11,"date":14},{"year":2020,"month":12,"date":26}]}},"y":{"field":"m","type":"quantitative","scale":{"domain":[-250,120],"nice":false,"zero":false}}}},
 {"mark":{"type":"text","fontSize":5.8,"color":"#2c9c2c","xOffset":12.5,"yOffset":1.5,"align":"center","baseline":"middle"},
  "encoding":{"x":{"datum":{"year":2020,"month":12,"date":26},"type":"temporal","scale":{"domain":[{"year":2019,"month":11,"date":14},{"year":2020,"month":12,"date":26}]}},"y":{"field":"m","type":"quantitative","scale":{"domain":[-250,120],"nice":false,"zero":false}},"text":{"field":"t"}}}
 ]},
{"data":{"values":[{"m":85,"t":"MACD (12 26 9)"}]},
 "layer":[
 {"mark":{"type":"point","shape":"M-1,-0.13H1V0.13H-1Z","size":1849,"filled":true,"fill":"#dcdcdc","stroke":"#bbb","strokeWidth":0.5,"xOffset":23.5,"opacity":1},
  "encoding":{"x":{"datum":{"year":2019,"month":11,"date":14},"type":"temporal","scale":{"domain":[{"year":2019,"month":11,"date":14},{"year":2020,"month":12,"date":26}]}},"y":{"field":"m","type":"quantitative","scale":{"domain":[-250,120],"nice":false,"zero":false}}}},
 {"mark":{"type":"point","shape":"M-0.5,-1H0.5V1H-0.5Z","size":16,"filled":true,"color":"#4a4ac0","xOffset":4,"opacity":1},
  "encoding":{"x":{"datum":{"year":2019,"month":11,"date":14},"type":"temporal","scale":{"domain":[{"year":2019,"month":11,"date":14},{"year":2020,"month":12,"date":26}]}},"y":{"field":"m","type":"quantitative","scale":{"domain":[-250,120],"nice":false,"zero":false}}}},
 {"mark":{"type":"text","fontSize":5.5,"color":"#222","xOffset":25.5,"align":"center","baseline":"middle"},
  "encoding":{"x":{"datum":{"year":2019,"month":11,"date":14},"type":"temporal","scale":{"domain":[{"year":2019,"month":11,"date":14},{"year":2020,"month":12,"date":26}]}},"y":{"field":"m","type":"quantitative","scale":{"domain":[-250,120],"nice":false,"zero":false}},"text":{"field":"t"}}}
 ]}
]}
]
}
